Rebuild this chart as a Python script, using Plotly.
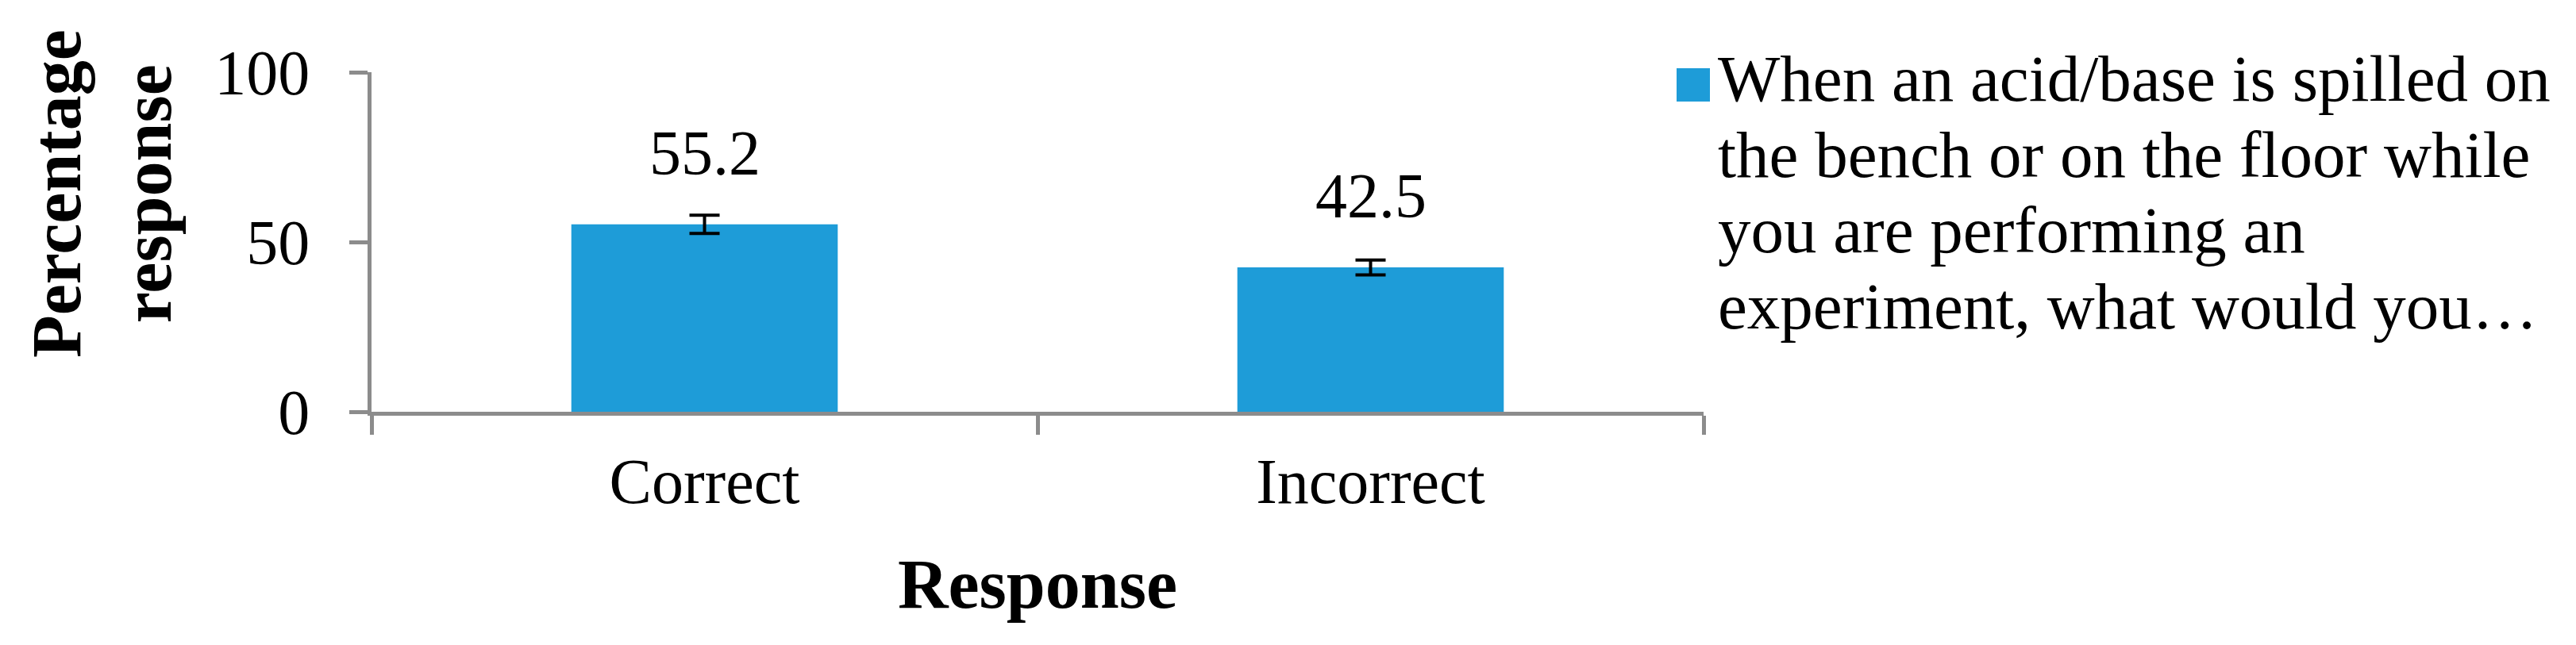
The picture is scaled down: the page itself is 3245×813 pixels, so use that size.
import plotly.graph_objects as go

# Data
categories = ["Correct", "Incorrect"]
percent_response = [55.2, 42.5]
error_sizes = [2.7, 2.2]
y_ticks = [0, 50, 100]
legend_lines = [
    "When an acid/base is spilled on",
    "the bench or on the floor while",
    "you are performing an",
    "experiment, what would you…",
]

WIDTH, HEIGHT = 3245, 813
FONT = "Times New Roman, Liberation Serif, serif"
TICK_SIZE = 80
TITLE_SIZE = 88
LEGEND_SIZE = 83
BAR_COLOR = "#1e9cd8"
AXIS_COLOR = "#8c8c8c"

# plot area in pixels
PLOT_L, PLOT_R, PLOT_T, PLOT_B = 460, 2138, 83, 511


def paper_x(px):
    return (px - PLOT_L) / (PLOT_R - PLOT_L)


def paper_y(py):
    return (PLOT_B - py) / (PLOT_B - PLOT_T)


fig = go.Figure()
fig.add_trace(
    go.Bar(
        x=categories,
        y=percent_response,
        width=0.4,
        marker=dict(color=BAR_COLOR, line=dict(width=0)),
        error_y=dict(type="data", array=error_sizes, visible=True,
                     color="black", thickness=4, width=19),
        showlegend=False,
    )
)

annotations = []
# value labels above bars
for cat, val in zip(categories, percent_response):
    annotations.append(dict(
        x=cat, y=val, xref="x", yref="y", text=f"{val:.1f}",
        showarrow=False, yanchor="middle", yshift=90,
        font=dict(family=FONT, size=TICK_SIZE, color="black"),
    ))

# y axis title (two lines, sits above plot center like the original)
annotations.append(dict(
    x=paper_x(121), y=paper_y(236), xref="paper", yref="paper",
    text="<b>Percentage<br>response</b>", textangle=-90, showarrow=False,
    xanchor="center", yanchor="middle",
    font=dict(family=FONT, size=TITLE_SIZE, color="black"),
))

# legend drawn by hand so the swatch can be as big as the original
for i, line in enumerate(legend_lines):
    annotations.append(dict(
        x=paper_x(2154), y=paper_y(125 + i * 95.5 - 34), xref="paper", yref="paper",
        text=line, showarrow=False, xanchor="left", yanchor="middle",
        font=dict(family=FONT, size=LEGEND_SIZE, color="black"),
    ))

fig.add_shape(
    type="rect", xref="paper", yref="paper",
    x0=paper_x(2104), x1=paper_x(2146), y0=paper_y(120), y1=paper_y(78),
    fillcolor=BAR_COLOR, line=dict(width=0),
)

fig.update_layout(
    width=WIDTH,
    height=HEIGHT,
    margin=dict(l=PLOT_L, r=WIDTH - PLOT_R, t=PLOT_T, b=HEIGHT - PLOT_B),
    paper_bgcolor="white",
    plot_bgcolor="white",
    font=dict(family=FONT, size=TICK_SIZE, color="black"),
    showlegend=False,
    annotations=annotations,
)
fig.update_xaxes(
    type="category",
    tickson="boundaries",
    ticks="outside",
    ticklen=24,
    tickwidth=4.5,
    tickcolor=AXIS_COLOR,
    showline=True,
    linecolor=AXIS_COLOR,
    linewidth=4.5,
    showgrid=False,
    ticklabelstandoff=14,
    tickfont=dict(family=FONT, size=TICK_SIZE, color="black"),
    title=dict(text="<b>Response</b>", standoff=56,
               font=dict(family=FONT, size=TITLE_SIZE, color="black")),
)
fig.update_yaxes(
    range=[0, 100],
    tickvals=y_ticks,
    ticks="outside",
    ticklen=23,
    tickwidth=4.5,
    tickcolor=AXIS_COLOR,
    showline=True,
    linecolor=AXIS_COLOR,
    linewidth=4.5,
    showgrid=False,
    zeroline=False,
    ticklabelstandoff=34,
    tickfont=dict(family=FONT, size=TICK_SIZE, color="black"),
)

fig.write_html("out.html")
